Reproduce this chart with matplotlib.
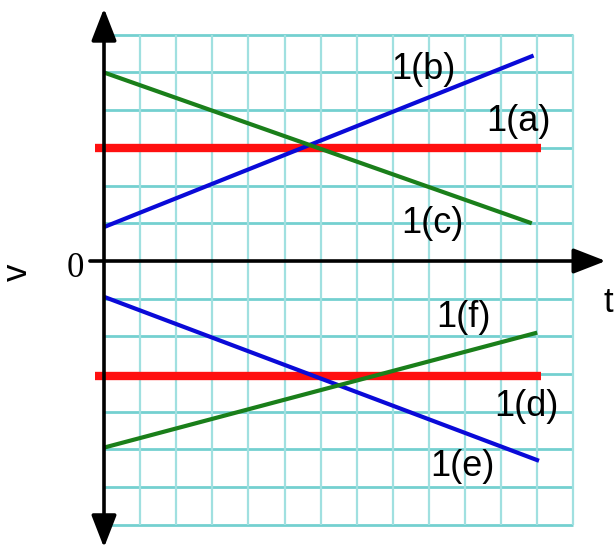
"""速度-时间图 v-t：六条直线 1(a)–1(f)。"""

import matplotlib.pyplot as plt
import numpy as np

plt.rcParams["font.family"] = ["Liberation Sans", "DejaVu Sans"]

# 每条线的 (t, v) 端点
labels = ["1(a)", "1(b)", "1(c)", "1(d)", "1(e)", "1(f)"]
t_start = [-0.25, 0.0, 0.0, -0.25, 0.0, 0.0]
t_end = [12.1, 11.9, 11.85, 12.1, 12.05, 12.0]
v_start = [3.0, 0.9, 5.0, -3.05, -0.95, -4.95]
v_end = [3.0, 5.45, 1.0, -3.05, -5.3, -1.9]
colors = ["#ff1010", "#0a0ad8", "#1a7f1a", "#ff1010", "#0a0ad8", "#1a7f1a"]
widths = [6, 3, 3, 6, 3, 3]

# 标签位置
label_t = [11.47, 8.84, 9.1, 11.7, 9.92, 9.95]
label_v = [3.69, 5.07, 1.0, -3.87, -5.46, -1.51]

grid_t = np.arange(1, 14)
grid_v = [v for v in range(-7, 7) if v != 0]

fig = plt.figure(figsize=(6.16, 5.54), dpi=100)
ax = fig.add_axes([0, 0, 1, 1])
ax.set_xlim(-104 / 36.1, (616 - 104) / 36.1)
ax.set_ylim(-(554 - 261) / 37.7, 261 / 37.7)
ax.axis("off")

# 网格
ax.hlines(grid_v, 0, 13, colors="#74d0d0", lw=2, zorder=1)
ax.vlines(grid_t, -7, 6, colors="#a0e0e0", lw=1.6, zorder=1)

# 坐标轴箭头（纵轴两端都有箭头）
head = "head_width=0.35,head_length=0.9"
ax.annotate("", xy=(0, 6.7), xytext=(0, -7.6),
            arrowprops=dict(arrowstyle="<|-|>," + head, mutation_scale=22,
                            lw=2.6, color="black", shrinkA=0, shrinkB=0),
            zorder=5)
ax.annotate("", xy=(13.9, 0), xytext=(-0.39, 0),
            arrowprops=dict(arrowstyle="-|>," + head, mutation_scale=22,
                            lw=2.6, color="black", shrinkA=0, shrinkB=0),
            zorder=5)

for i in range(len(labels)):
    ax.plot([t_start[i], t_end[i]], [v_start[i], v_end[i]],
            color=colors[i], lw=widths[i], solid_capstyle="butt", zorder=3)
    ax.text(label_t[i], label_v[i], labels[i], fontsize=26,
            ha="center", va="center", zorder=4)

ax.text(-0.80, -0.19, "0", fontsize=25, family="Liberation Serif",
        ha="center", va="center")
ax.text(-2.41, -0.29, "v", fontsize=25, rotation=90, ha="center", va="center")
ax.text(13.96, -1.11, "t", fontsize=25, ha="center", va="center")

fig.savefig("out.png", dpi=100)
